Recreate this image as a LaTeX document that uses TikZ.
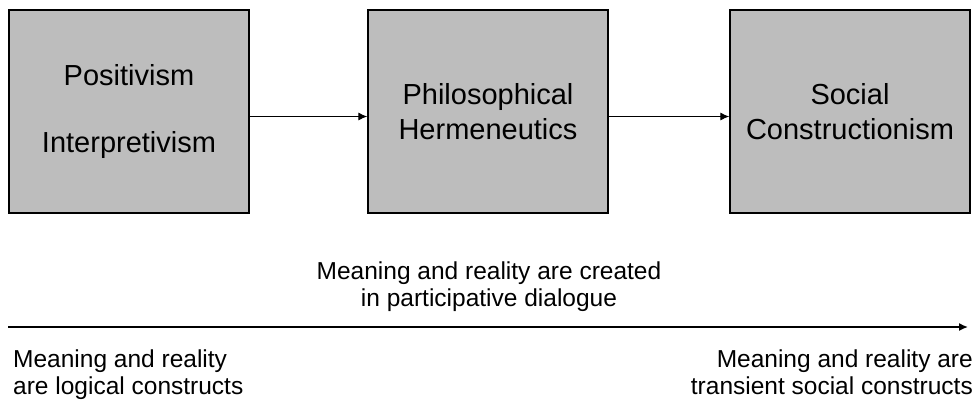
\documentclass[tikz,border=0pt]{standalone}
\usepackage{fontspec}
\setmainfont{Liberation Sans}
\usetikzlibrary{arrows.meta, positioning}
\definecolor{boxgray}{gray}{0.74}

\begin{document}
\begin{tikzpicture}[x=1pt, y=-1pt,
  stage/.style={draw, line width=1.3pt, fill=boxgray, minimum width=240pt, minimum height=203pt, align=center, font=\fontsize{29}{35}\selectfont},
  note/.style={inner sep=0pt, font=\fontsize{24.5}{26.5}\selectfont},
  flow/.style={line width=1.1pt, -{Latex[length=9pt, width=8pt]}}]
\useasboundingbox (0,0) rectangle (978,402);

% Top: the three positions
\node[stage] (posint) at (129,111.5) {Positivism\\[32pt]Interpretivism};
\node[stage] (herm) at (488,111.5) {Philosophical\\Hermeneutics};
\node[stage] (socc) at (850,111.5) {Social\\Constructionism};

\draw[flow] ([yshift=-5pt]posint.east) -- ([yshift=-5pt]herm.west);
\draw[flow] ([yshift=-5pt]herm.east) -- ([yshift=-5pt]socc.west);

% Bottom: continuum
\coordinate (axstart) at (8,327);
\coordinate (axend) at (968,327);
\draw[flow, line width=1.5pt] (axstart) -- (axend);

\node[note, anchor=north, align=center] (midnote) at (489,262) {Meaning and reality are created\\in participative dialogue};
\node[note, anchor=north west, align=left] (leftnote) at (13,350) {Meaning and reality\\are logical constructs};
\node[note, anchor=north east, align=right] (rightnote) at (973,350) {Meaning and reality are\\transient social constructs};

\end{tikzpicture}
\end{document}
